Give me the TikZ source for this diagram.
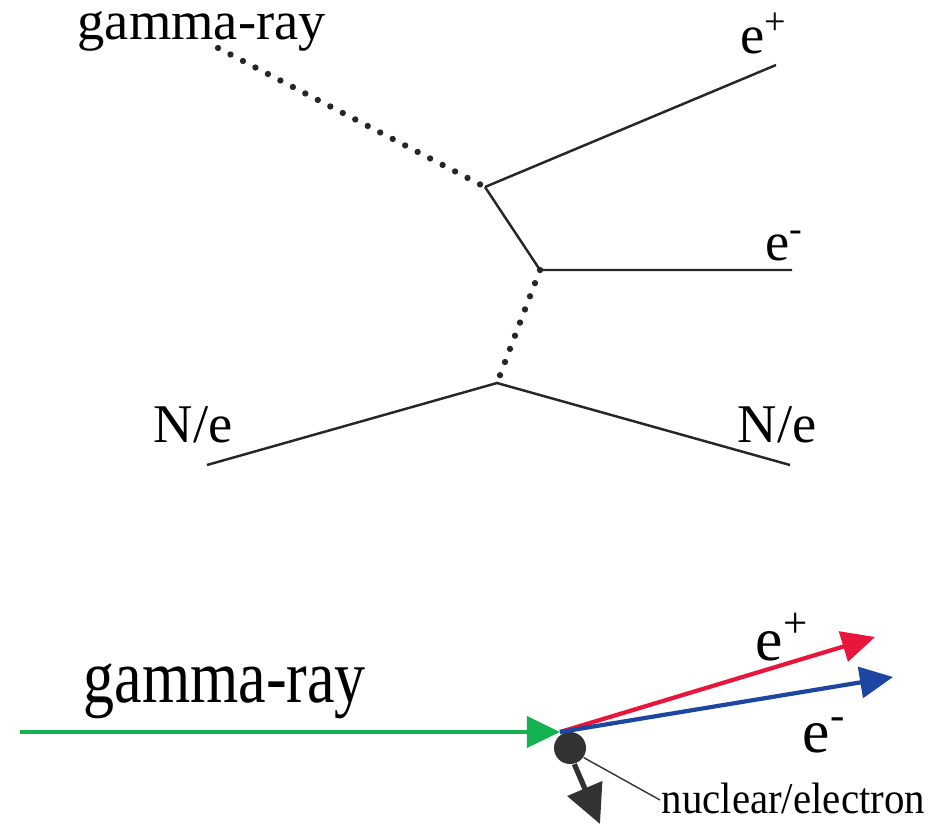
\documentclass[tikz,border=0pt]{standalone}
\usepackage{fontspec}
\setmainfont{Liberation Serif}
\usepackage{tikz}
\usepackage{xcolor}
\usetikzlibrary{calc, arrows.meta, positioning}
\definecolor{gray}{RGB}{50,50,50}
\definecolor{gamgreen}{RGB}{20,178,80}
\definecolor{posred}{RGB}{232,22,60}
\definecolor{negblue}{RGB}{28,70,160}
\tikzset{
  leg/.style={line width=0.7pt, color=black!85},
  virt/.style={line width=1.8pt, line cap=round, dash pattern=on 0pt off 4pt, color=black!85},
  lbl/.style={inner sep=0pt, anchor=base west, font=\fontsize{15.5}{18}\selectfont},
  big/.style={inner sep=0pt, anchor=base west, font=\fontsize{17.5}{20}\selectfont},
  ray/.style={line width=1.2pt, -{Triangle[length=9.4pt, width=8.8pt]}}
}

\begin{document}
\begin{tikzpicture}[x=0.01cm, y=-0.01cm]
  \useasboundingbox (0,0) rectangle (937,824);
  % vertices and open ends of the upper graph
  \coordinate (gin) at (218,48);
  \coordinate (va) at (485,187);
  \coordinate (vb) at (540,270);
  \coordinate (vc) at (497,383);
  \coordinate (pout) at (776,65);
  \coordinate (eout) at (792,270);
  \coordinate (nin) at (207,465);
  \coordinate (nout) at (790,465);
  % labels
  \node[lbl] (gtxt) at (77,39) {gamma-ray};
  \node[lbl] (ptxt) at (740,53) {e\textsuperscript{+}};
  \node[lbl] (etxt) at (765,260) {e\textsuperscript{-}};
  \node[lbl] (ntxta) at (153,442) {N/e};
  \node[lbl] (ntxtb) at (737,442) {N/e};
  % lines
  \draw[virt] (gin) -- (va);
  \draw[leg] (va) -- (pout);
  \draw[leg] (va) -- (vb) -- (eout);
  \draw[virt] (vb) -- (vc);
  \draw[leg] (nin) -- (vc) -- (nout);

  % lower sketch: gamma-ray hits a nucleus
  \coordinate (src) at (20,732);
  \node[circle, fill=gray, inner sep=0pt, minimum size=0.32cm] (dot) at (570,748) {};
  \coordinate (hit) at (560,732);
  \coordinate (ppos) at (875,637);
  \coordinate (pneg) at (893,677);
  \coordinate (recoil) at (600,824);
  \coordinate (bend) at (660,800);
  \draw[ray, gamgreen] (src) -- (hit);
  \draw[ray, posred] (hit) -- (ppos);
  \draw[ray, negblue] (hit) -- (pneg);
  \draw[line width=1.5pt, gray, -{Triangle[length=11pt, width=10.5pt]}] (dot.-75) -- (recoil);
  \draw[line width=0.4pt, gray] (dot.-35) -- (bend);
  \node[inner sep=0pt, anchor=base west, font=\fontsize{21.5}{24}\selectfont, xscale=0.82] (gtxtb) at (83,702) {gamma-ray};
  \node[big] (ptxtb) at (755,660) {e\textsuperscript{+}};
  \node[big] (etxtb) at (802,752) {e\textsuperscript{-}};
  \node[inner sep=0pt, anchor=base west, font=\fontsize{12.5}{15}\selectfont, xscale=0.93] (ntxtc) at (661,813) {nuclear/electron};
\end{tikzpicture}
\end{document}
